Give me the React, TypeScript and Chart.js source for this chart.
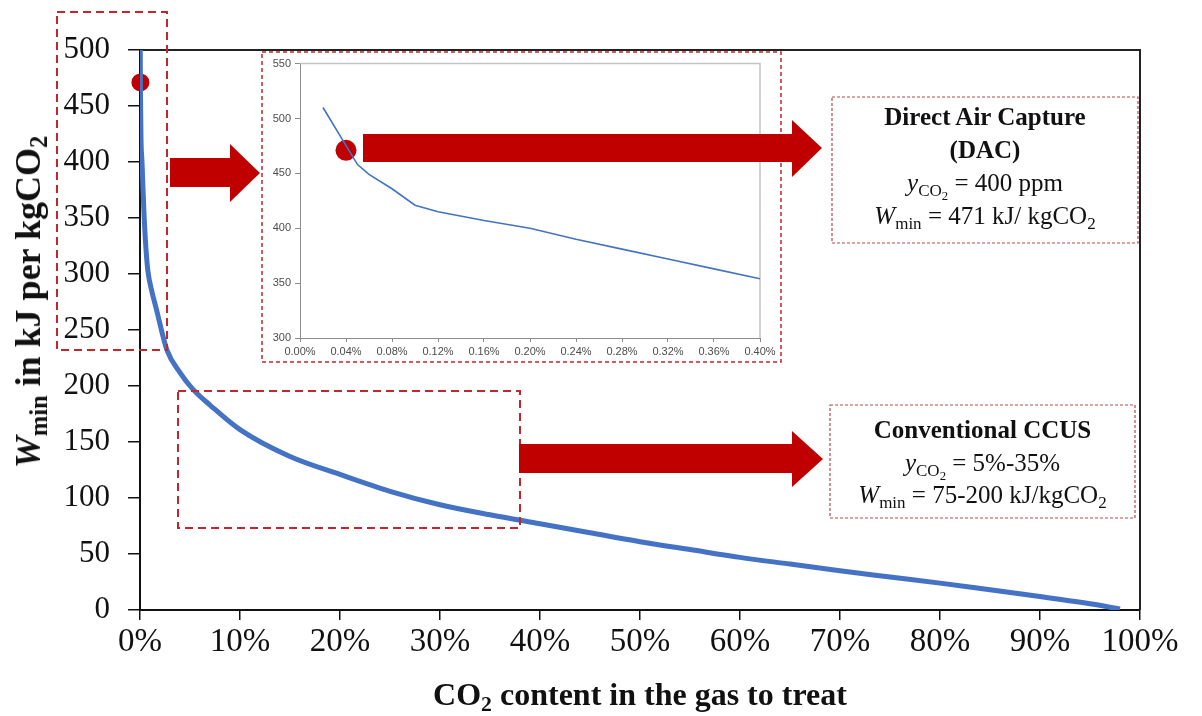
import React, { useEffect, useRef } from 'react';
import { Chart, registerables } from 'chart.js';

Chart.register(...registerables);

// Main curve: CO2 share in the feed gas (%) vs minimum separation work (kJ per kg CO2)
const co2Share = [0.02, 0.04, 0.05, 0.1, 0.2, 0.3, 0.4, 0.6, 0.8, 1.2, 1.6, 2.7, 4, 5.3, 7, 10, 15, 20, 25, 30, 35, 40, 45, 50, 55, 60, 65, 70, 75, 80, 85, 90, 95, 98];
const minWork = [510, 475, 458, 421, 400, 376, 354, 322, 302, 284, 270, 232, 212, 197, 183, 161, 137, 121, 106, 94, 85, 77, 69, 61, 54, 47, 41, 35, 29.5, 24, 18, 12, 5.5, 1];

// Zoomed view of the low-concentration (DAC) range
const dacShare = [0.02, 0.05, 0.06, 0.08, 0.1, 0.12, 0.16, 0.2, 0.24, 0.28, 0.32, 0.36, 0.4];
const dacWork = [510, 458, 449, 436, 421, 415, 407, 400, 390, 381, 372, 363, 354];

// Highlighted DAC operating point: 400 ppm, 471 kJ/kgCO2
const markShare = [0.04];
const markWork = [471];

// Axis tick settings
const mainXTicks = [0, 10, 20, 30, 40, 50, 60, 70, 80, 90, 100];
const mainYTicks = [0, 50, 100, 150, 200, 250, 300, 350, 400, 450, 500];
const insetXTicks = [0, 0.04, 0.08, 0.12, 0.16, 0.2, 0.24, 0.28, 0.32, 0.36, 0.4];
const insetYTicks = [300, 350, 400, 450, 500, 550];

const BLUE = '#4472C4';
const RED = '#C00000';
const SERIF = '"Liberation Serif", "Times New Roman", serif';
const SANS = '"Liberation Sans", Arial, sans-serif';

const pts = (xs: number[], ys: number[]) => xs.map((x, i) => ({ x, y: ys[i] }));

const frameTopRight = (color: string, width: number) => ({
  id: 'frameTopRight',
  beforeDatasetsDraw(chart: any) {
    const { ctx, chartArea: a } = chart;
    ctx.save();
    ctx.strokeStyle = color;
    ctx.lineWidth = width;
    ctx.beginPath();
    ctx.moveTo(a.left, a.top);
    ctx.lineTo(a.right, a.top);
    ctx.lineTo(a.right, a.bottom);
    ctx.stroke();
    ctx.restore();
  },
});

const Sub = ({ children }: { children: React.ReactNode }) => (
  <span style={{ fontSize: '0.68em', verticalAlign: '-0.3em', lineHeight: 0 }}>{children}</span>
);

export default function App() {
  const mainRef = useRef<HTMLCanvasElement>(null);
  const insetRef = useRef<HTMLCanvasElement>(null);

  useEffect(() => {
    document.body.style.margin = '0';
    const main = new Chart(mainRef.current!, {
      type: 'line',
      data: {
        datasets: [
          {
            data: pts(co2Share, minWork),
            borderColor: BLUE,
            borderWidth: 5,
            pointRadius: 0,
            cubicInterpolationMode: 'monotone',
          },
          {
            data: pts(markShare, markWork),
            showLine: false,
            pointRadius: 9,
            pointBackgroundColor: RED,
            pointBorderColor: RED,
            borderWidth: 0,
            clip: false,
          },
        ],
      },
      options: {
        animation: false,
        responsive: false,
        maintainAspectRatio: false,
        layout: { padding: { top: 50, right: 62, left: 0, bottom: 0 } },
        plugins: { legend: { display: false }, tooltip: { enabled: false } },
        scales: {
          x: {
            type: 'linear',
            min: 0,
            max: 100,
            afterBuildTicks: (s: any) => { s.ticks = mainXTicks.map((v) => ({ value: v })); },
            afterFit: (s: any) => { s.height = 106; },
            ticks: {
              callback: (v: any) => `${v}%`,
              font: { family: SERIF, size: 33 },
              color: '#111',
              padding: 3,
              maxRotation: 0,
              autoSkip: false,
            },
            grid: { drawOnChartArea: false, drawTicks: true, tickLength: 10, color: '#111', lineWidth: 1.5 },
            border: { color: '#111', width: 2 },
          },
          y: {
            type: 'linear',
            min: 0,
            max: 500,
            afterBuildTicks: (s: any) => { s.ticks = mainYTicks.map((v) => ({ value: v })); },
            afterFit: (s: any) => { s.width = 140; },
            ticks: {
              font: { family: SERIF, size: 31 },
              color: '#111',
              padding: 18,
              autoSkip: false,
            },
            grid: { drawOnChartArea: false, drawTicks: true, tickLength: 12, color: '#111', lineWidth: 1.5 },
            border: { color: '#111', width: 2 },
          },
        },
      },
      plugins: [frameTopRight('#222', 2)],
    } as any);

    const inset = new Chart(insetRef.current!, {
      type: 'line',
      data: {
        datasets: [
          {
            data: pts(dacShare, dacWork),
            borderColor: BLUE,
            borderWidth: 1.6,
            pointRadius: 0,
            tension: 0,
          },
          {
            data: pts(markShare, markWork),
            showLine: false,
            pointRadius: 10.5,
            pointBackgroundColor: RED,
            pointBorderColor: RED,
            borderWidth: 0,
          },
        ],
      },
      options: {
        animation: false,
        responsive: false,
        maintainAspectRatio: false,
        layout: { padding: { top: 10, right: 19, left: 0, bottom: 0 } },
        plugins: { legend: { display: false }, tooltip: { enabled: false } },
        scales: {
          x: {
            type: 'linear',
            min: 0,
            max: 0.4,
            afterBuildTicks: (s: any) => { s.ticks = insetXTicks.map((v) => ({ value: v })); },
            afterFit: (s: any) => { s.height = 23; },
            ticks: {
              callback: (v: any) => `${Number(v).toFixed(2)}%`,
              font: { family: SANS, size: 11 },
              color: '#4d4d4d',
              padding: 3,
              maxRotation: 0,
              autoSkip: false,
            },
            grid: { drawOnChartArea: false, drawTicks: true, tickLength: 4, color: '#8c8c8c' },
            border: { color: '#8c8c8c', width: 1 },
          },
          y: {
            type: 'linear',
            min: 300,
            max: 550,
            afterBuildTicks: (s: any) => { s.ticks = insetYTicks.map((v) => ({ value: v })); },
            afterFit: (s: any) => { s.width = 37; },
            ticks: {
              font: { family: SANS, size: 11 },
              color: '#4d4d4d',
              padding: 4,
              autoSkip: false,
            },
            grid: { drawOnChartArea: false, drawTicks: true, tickLength: 5, color: '#8c8c8c' },
            border: { color: '#8c8c8c', width: 1 },
          },
        },
      },
      plugins: [frameTopRight('#c4c4c4', 1.5)],
    } as any);

    return () => {
      main.destroy();
      inset.destroy();
    };
  }, []);

  const boxText: React.CSSProperties = {
    position: 'absolute',
    fontFamily: SERIF,
    fontSize: 25,
    color: '#111',
    textAlign: 'center',
    whiteSpace: 'nowrap',
    boxSizing: 'border-box',
  };

  return (
    <div style={{ position: 'relative', width: 1202, height: 716, overflow: 'hidden', background: '#fff' }}>
      <canvas ref={mainRef} width={1202} height={716} style={{ position: 'absolute', left: 0, top: 0 }} />
      <canvas
        ref={insetRef}
        width={516}
        height={308}
        style={{ position: 'absolute', left: 263, top: 53, background: '#fff' }}
      />

      <div
        style={{
          position: 'absolute',
          left: 28,
          top: 302,
          transform: 'translate(-50%, -50%) rotate(-90deg)',
          fontFamily: SERIF,
          fontWeight: 'bold',
          fontSize: 36,
          whiteSpace: 'nowrap',
          color: '#111',
        }}
      >
        <i>W</i>
        <Sub>min</Sub> in kJ per kgCO<Sub>2</Sub>
      </div>

      <div
        style={{
          position: 'absolute',
          left: 640,
          top: 694,
          transform: 'translate(-50%, -50%)',
          fontFamily: SERIF,
          fontWeight: 'bold',
          fontSize: 32,
          whiteSpace: 'nowrap',
          color: '#111',
        }}
      >
        CO<Sub>2</Sub> content in the gas to treat
      </div>

      <svg width={1202} height={716} style={{ position: 'absolute', left: 0, top: 0, pointerEvents: 'none' }}>
        <g fill="none" stroke="#c0282d" strokeWidth={2} strokeDasharray="8 5">
          <rect x={57} y={12} width={110} height={338} />
          <rect x={178} y={391} width={342} height={137} />
        </g>
        <rect x={262} y={52} width={519} height={310} fill="none" stroke="#c0282d" strokeWidth={1.5} strokeDasharray="4 3" />
        <g fill={RED}>
          <polygon points="170,158 230,158 230,144 260,173 230,202 230,187 170,187" />
          <polygon points="363,134 792,134 792,120 822,148 792,177 792,162 363,162" />
          <polygon points="519,444 792,444 792,431 823,459 792,487 792,473 519,473" />
        </g>
        <g fill="#fff" stroke="#b5484f" strokeWidth={1.2} strokeDasharray="3 2">
          <rect x={832} y={97} width={306} height={146} />
          <rect x={830} y={405} width={305} height={113} />
        </g>
      </svg>

      <div style={{ ...boxText, left: 833, top: 98, width: 304, paddingTop: 2, lineHeight: '33px' }}>
        <div style={{ fontWeight: 'bold' }}>Direct Air Capture</div>
        <div style={{ fontWeight: 'bold' }}>(DAC)</div>
        <div>
          <i>y</i>
          <Sub>
            CO<span style={{ fontSize: '0.75em', verticalAlign: '-0.3em' }}>2</span>
          </Sub>{' '}
          = 400 ppm
        </div>
        <div>
          <i>W</i>
          <Sub>min</Sub> = 471 kJ/ kgCO<Sub>2</Sub>
        </div>
      </div>

      <div style={{ ...boxText, left: 831, top: 406, width: 303, paddingTop: 8, lineHeight: '32.5px' }}>
        <div style={{ fontWeight: 'bold' }}>Conventional CCUS</div>
        <div>
          <i>y</i>
          <Sub>
            CO<span style={{ fontSize: '0.75em', verticalAlign: '-0.3em' }}>2</span>
          </Sub>{' '}
          = 5%-35%
        </div>
        <div>
          <i>W</i>
          <Sub>min</Sub> = 75-200 kJ/kgCO<Sub>2</Sub>
        </div>
      </div>
    </div>
  );
}
